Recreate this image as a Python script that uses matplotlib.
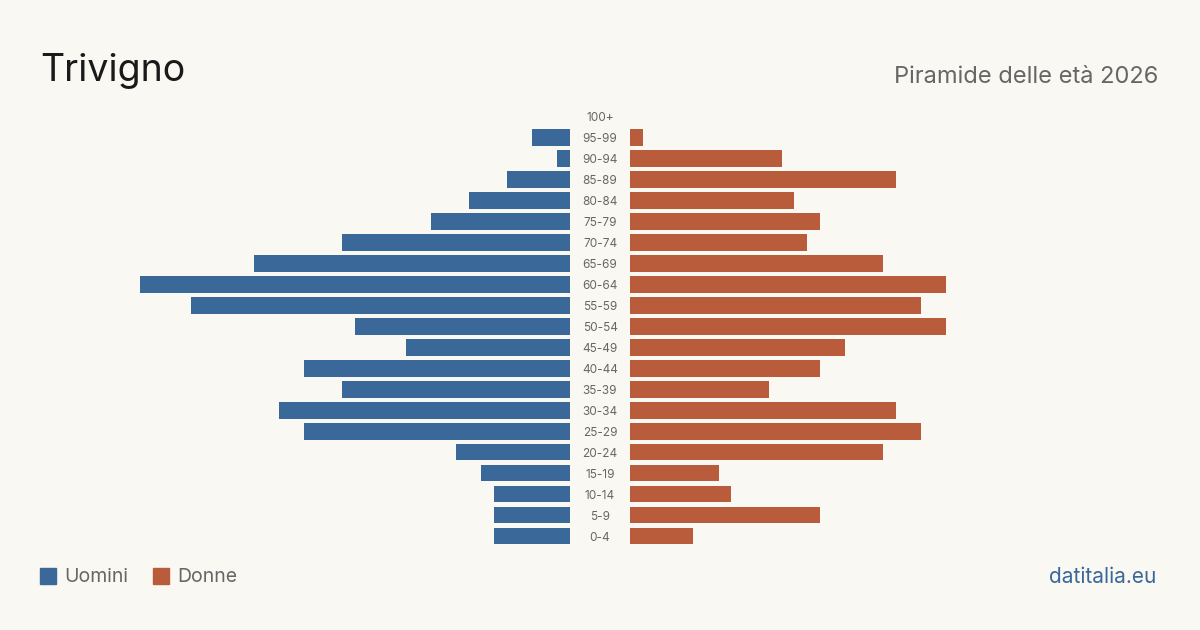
import matplotlib.pyplot as plt
import numpy as np

plt.rcParams['font.family'] = ['Inter', 'DejaVu Sans']

# age classes from youngest to oldest
age_groups = ["0-4", "5-9", "10-14", "15-19", "20-24", "25-29", "30-34", "35-39",
              "40-44", "45-49", "50-54", "55-59", "60-64", "65-69", "70-74",
              "75-79", "80-84", "85-89", "90-94", "95-99", "100+"]
men = [6, 6, 6, 7, 9, 21, 23, 18, 21, 13, 17, 30, 34, 25, 18, 11, 8, 5, 1, 3, 0]
women = [5, 15, 8, 7, 20, 23, 21, 11, 15, 17, 25, 23, 25, 20, 14, 15, 13, 21, 12, 1, 0]

bg = "#f9f8f3"
blue = "#3a6898"
red = "#b95c3b"
max_val = max(max(men), max(women))

fig = plt.figure(figsize=(12, 6.3), dpi=100, facecolor=bg)

y = np.arange(len(age_groups))
bottom = (630 - 546.5) / 630
height = (546.5 - 106) / 630

# men on the left, axis reversed
ax_m = fig.add_axes([140 / 1200, bottom, 430 / 1200, height])
ax_m.barh(y, men, height=0.8, color=blue)
ax_m.set_xlim(max_val, 0)

# women on the right
ax_w = fig.add_axes([630 / 1200, bottom, 430 / 1200, height])
ax_w.barh(y, women, height=0.8, color=red)
ax_w.set_xlim(0, max_val)

for ax in (ax_m, ax_w):
    ax.set_ylim(-0.5, len(age_groups) - 0.5)
    ax.set_facecolor(bg)
    ax.axis("off")

# age labels in the gap between the two halves
for i, lab in enumerate(age_groups):
    fig.text(600 / 1200, bottom + height * (i + 0.5) / len(age_groups) - 1.5 / 630, lab,
             ha="center", va="center", fontsize=8.5, color="#666666")

fig.text(40 / 1200, 1 - 67 / 630, "Trivigno", fontsize=27, color="#1a1a1a",
         ha="left", va="center_baseline")
fig.text(1158 / 1200, 1 - 77 / 630, "Piramide delle età 2026", fontsize=17,
         color="#666666", ha="right", va="center")

# legend drawn by hand
for x0, col, lab in [(40, blue, "Uomini"), (153, red, "Donne")]:
    fig.patches.append(plt.Rectangle((x0 / 1200, 1 - 584 / 630), 16 / 1200, 16 / 630,
                                     transform=fig.transFigure, color=col))
    fig.text((x0 + 24) / 1200, 1 - 577 / 630, lab, fontsize=14, color="#666666",
             ha="left", va="center")

fig.text(1156 / 1200, 1 - 577 / 630, "datitalia.eu", fontsize=15, color=blue,
         ha="right", va="center")

fig.savefig("out.png", dpi=100, facecolor=bg)
